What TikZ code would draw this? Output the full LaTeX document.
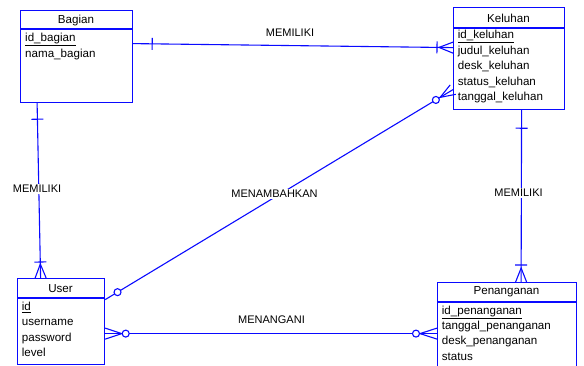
\documentclass[tikz,border=0pt]{standalone}
\usepackage{fontspec}
\setmainfont{Liberation Sans}
\usetikzlibrary{calc}
\definecolor{erblue}{RGB}{10,10,255}
\newcommand\erCrow[3]{\draw[rel] ($(#1)!5.5pt!90:(#2)$) -- ($(#1)!#3!(#2)$) -- ($(#1)!5.5pt!-90:(#2)$);}
\newcommand\erBar[3]{\coordinate (tmpbar) at ($(#1)!#3!(#2)$); \draw[rel] ($(tmpbar)!6pt!90:(#2)$) -- ($(tmpbar)!6pt!-90:(#2)$);}
\newcommand\erCirc[3]{\draw[rel, fill=white] ($(#1)!#3!(#2)$) circle (3.5pt);}
\begin{document}
\begin{tikzpicture}[x=1pt,y=-1pt,
  ent/.style={draw=erblue, line width=1.2pt, rectangle, inner sep=0pt, anchor=north west},
  attr/.style={anchor=base west, inner sep=0pt, font=\fontsize{11.6}{13}\selectfont},
  etitle/.style={inner sep=0pt, font=\fontsize{11.6}{13}\selectfont},
  rel/.style={draw=erblue, line width=1.1pt},
  hline/.style={draw=erblue, line width=1.2pt},
  lbl/.style={inner sep=1pt, fill=white, font=\fontsize{11}{12}\selectfont}]
\useasboundingbox (0,0) rectangle (584,365);

% entities
\node[ent, minimum width=112pt, minimum height=92pt] (bag) at (20,10) {};
\node[ent, minimum width=111pt, minimum height=102pt] (kel) at (453,7) {};
\node[ent, minimum width=87pt, minimum height=86pt] (usr) at (17,278) {};
\node[ent, minimum width=139pt, minimum height=88pt] (pen) at (437,282) {};

\draw[hline] (20,29) -- (132,29);
\draw[hline] (453,28) -- (564,28);
\draw[hline] (17,298) -- (104,298);
\draw[hline] (437,302) -- (576,302);

\node[etitle] (tbag) at (76,20) {Bagian};
\node[etitle] (tkel) at (508.5,18.5) {Keluhan};
\node[etitle] (tusr) at (60.5,289) {User};
\node[etitle] (tpen) at (506.5,292) {Penanganan};

\node[attr] (a1) at (25,41.8) {\underline{id\_bagian}};
\node[attr] (a2) at (25,57.3) {nama\_bagian};

\node[attr] (k1t) at (457.7,38.5) {\underline{id\_keluhan}};
\node[attr] (k2t) at (457.7,54.3) {judul\_keluhan};
\node[attr] (k3t) at (457.7,69.9) {desk\_keluhan};
\node[attr] (k4t) at (457.7,85.3) {status\_keluhan};
\node[attr] (k5t) at (457.7,100.9) {tanggal\_keluhan};

\node[attr] (u1t) at (21.7,310.2) {\underline{id}};
\node[attr] (u2t) at (21.7,325.5) {username};
\node[attr] (u3t) at (21.7,341.3) {password};
\node[attr] (u4t) at (21.7,356.3) {level};

\node[attr] (p1t) at (441.7,314.2) {\underline{id\_penanganan}};
\node[attr] (p2t) at (441.7,329.6) {tanggal\_penanganan};
\node[attr] (p3t) at (441.7,344.3) {desk\_penanganan};
\node[attr] (p4t) at (441.7,360.2) {status};

% connection points
\coordinate (b1) at ([yshift=13pt]bag.east);
\coordinate (k1) at ([yshift=11pt]kel.west);
\coordinate (b2) at ([xshift=-39.5pt]bag.south);
\coordinate (u1) at ([xshift=-20.5pt]usr.north);
\coordinate (u2) at ([yshift=22pt]usr.east);
\coordinate (k2) at ([yshift=-31pt]kel.west);
\coordinate (k3) at ([xshift=12.5pt]kel.south);
\coordinate (p1) at ([xshift=14pt]pen.north);
\coordinate (u3) at ([yshift=-12pt]usr.east);
\coordinate (p2) at ([yshift=-7pt]pen.west);

% Bagian - Keluhan
\draw[rel] (b1) -- (k1);
\erBar{b1}{k1}{19pt}
\erCrow{k1}{b1}{14pt}
\erBar{k1}{b1}{16pt}

% Bagian - User
\draw[rel] (b2) -- (u1);
\erBar{b2}{u1}{16pt}
\erCrow{u1}{b2}{14pt}
\erBar{u1}{b2}{16pt}

% Keluhan - Penanganan
\draw[rel] (k3) -- (p1);
\erBar{k3}{p1}{18pt}
\erCrow{p1}{k3}{14pt}
\erBar{p1}{k3}{17pt}

% User - Keluhan
\draw[rel] (u2) -- (k2);
\erCrow{k2}{u2}{15pt}
\erCirc{k2}{u2}{20pt}
\erCirc{u2}{k2}{14.4pt}

% User - Penanganan
\draw[rel] (u3) -- (p2);
\erCrow{u3}{p2}{16.5pt}
\erCirc{u3}{p2}{20.5pt}
\erCrow{p2}{u3}{17pt}
\erCirc{p2}{u3}{21pt}

% labels
\node[lbl] (l1) at (290,32.3) {MEMILIKI};
\node[lbl] (l2) at (37,189) {MEMILIKI};
\node[lbl] (l3) at (274.5,194) {MENAMBAHKAN};
\node[lbl] (l4) at (518.5,193) {MEMILIKI};
\node[lbl] (l5) at (271.5,320) {MENANGANI};
\end{tikzpicture}
\end{document}
